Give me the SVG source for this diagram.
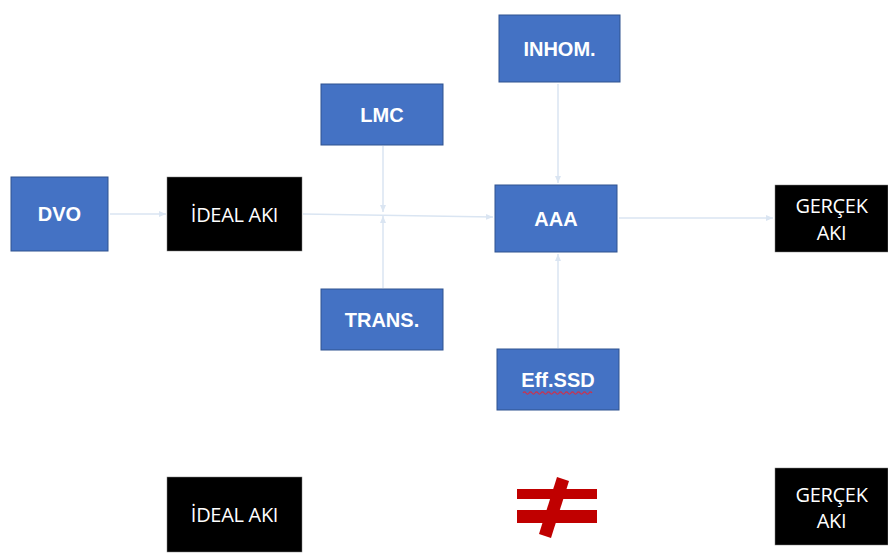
<svg xmlns="http://www.w3.org/2000/svg" width="888" height="553" viewBox="0 0 888 553">
<style>
.b{fill:#4472c4;stroke:#2f528f;stroke-width:1}
.k{fill:#000;stroke:#7f7f7f;stroke-width:0.5}
.bt{font-family:"Liberation Sans",Arial,sans-serif;font-size:20px;font-weight:bold;fill:#fff;text-anchor:middle}
.kt{font-family:"Open Sans","Liberation Sans",sans-serif;font-size:20px;fill:#fff;text-anchor:middle;letter-spacing:-0.3px}
.c{stroke:#dae5f2;stroke-width:1.5;fill:none;marker-end:url(#a)}
</style>
<defs>
<marker id="a" markerWidth="8" markerHeight="8" refX="7" refY="4" orient="auto" markerUnits="userSpaceOnUse">
<path d="M0,1 L7,4 L0,7 z" fill="#dae5f2"/>
</marker>
</defs>
<rect width="888" height="553" fill="#fff"/>
<g id="connectors">
<line class="c" x1="110" y1="214" x2="166" y2="214"/>
<line class="c" x1="303" y1="214" x2="493" y2="217"/>
<line class="c" x1="383" y1="146" x2="383" y2="212"/>
<line class="c" x1="383" y1="288" x2="383" y2="216"/>
<line class="c" x1="558" y1="84" x2="558" y2="183"/>
<line class="c" x1="558" y1="348" x2="558" y2="254"/>
<line class="c" x1="619" y1="218" x2="773" y2="218"/>
</g>
<g id="dvo"><rect class="b" x="11" y="177" width="97" height="74"/><text class="bt" x="59.5" y="221">DVO</text></g>
<g id="ideal1"><rect class="k" x="167" y="177" width="135" height="74"/><text class="kt" x="234.5" y="222">İDEAL AKI</text></g>
<g id="lmc"><rect class="b" x="321" y="84" width="122" height="61"/><text class="bt" x="382" y="122">LMC</text></g>
<g id="trans"><rect class="b" x="321" y="289" width="122" height="61"/><text class="bt" x="382" y="327">TRANS.</text></g>
<g id="inhom"><rect class="b" x="499" y="15" width="121" height="67"/><text class="bt" x="559.5" y="56">INHOM.</text></g>
<g id="aaa"><rect class="b" x="495" y="185" width="122" height="67"/><text class="bt" x="556" y="226">AAA</text></g>
<g id="effssd"><rect class="b" x="497" y="349" width="122" height="61"/><text class="bt" x="558" y="387">Eff.SSD</text>
<path d="M523,393 q1.5,-2.4 3,0 t3,0 t3,0 t3,0 t3,0 t3,0 t3,0 t3,0 t3,0 t3,0 t3,0 t3,0 t3,0 t3,0 t3,0 t3,0 t3,0 t3,0 t3,0 t3,0 t3,0 t3,0 t3,0" stroke="#d0304a" stroke-width="1.2" fill="none"/></g>
<g id="gercek1"><rect class="k" x="775" y="185" width="113" height="67"/><text class="kt" x="831.5" y="213">GERÇEK</text><text class="kt" x="831.5" y="240">AKI</text></g>
<g id="ideal2"><rect class="k" x="167" y="477" width="135" height="75"/><text class="kt" x="234.5" y="522">İDEAL AKI</text></g>
<g id="noteq">
<rect x="517" y="489" width="80" height="10" fill="#c00000"/>
<rect x="517" y="510" width="80" height="13" fill="#c00000"/>
<path d="M557,477 L569,481 L551,538 L539,534 z" fill="#c00000"/>
</g>
<g id="gercek2"><rect class="k" x="775" y="468" width="113" height="77"/><text class="kt" x="831.5" y="502">GERÇEK</text><text class="kt" x="831.5" y="528">AKI</text></g>
</svg>
